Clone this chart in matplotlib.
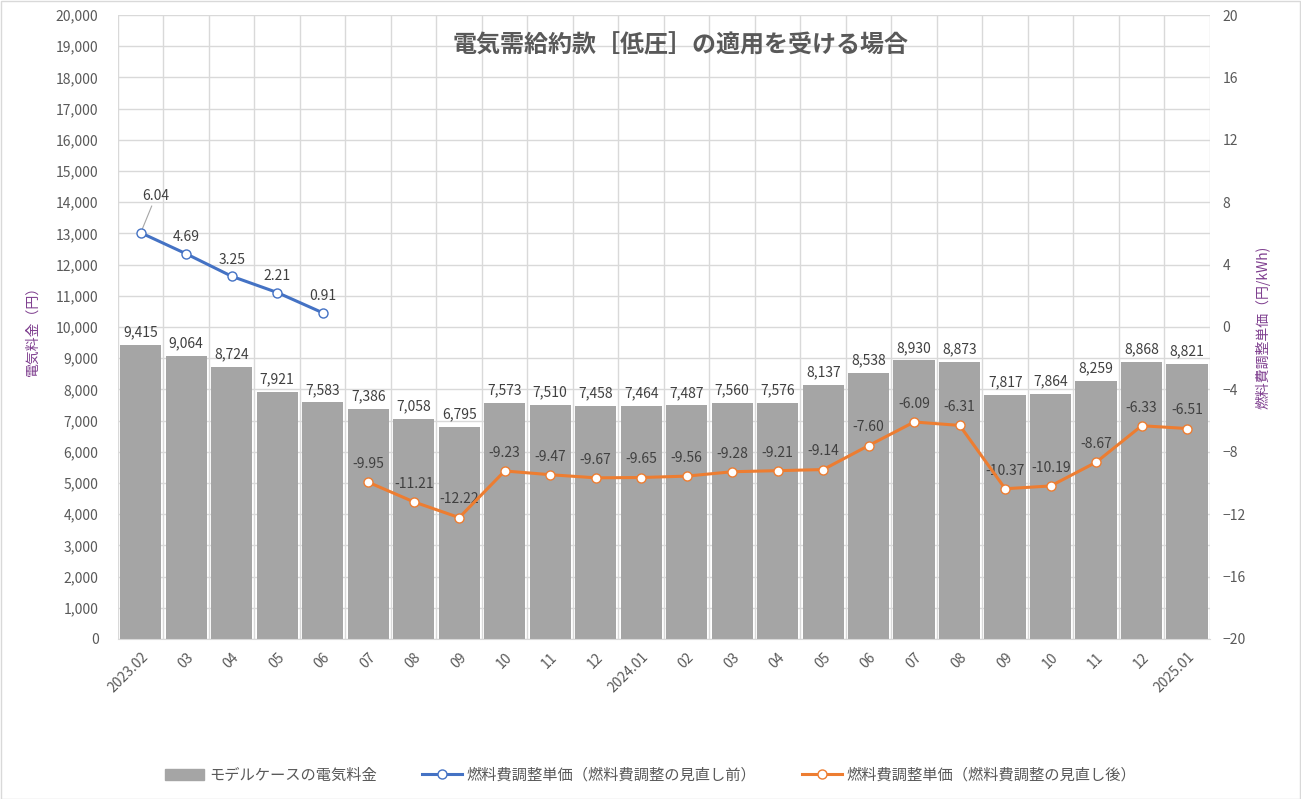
import numpy as np
import matplotlib
matplotlib.use('Agg')
import matplotlib.pyplot as plt
from matplotlib.patches import Rectangle
from matplotlib.lines import Line2D

plt.rcParams['font.family'] = ['Noto Sans CJK JP', 'DejaVu Sans']

months = ['2023.02', '03', '04', '05', '06', '07', '08', '09', '10', '11', '12',
          '2024.01', '02', '03', '04', '05', '06', '07', '08', '09', '10', '11', '12',
          '2025.01']
bill = [9415, 9064, 8724, 7921, 7583, 7386, 7058, 6795, 7573, 7510, 7458, 7464,
        7487, 7560, 7576, 8137, 8538, 8930, 8873, 7817, 7864, 8259, 8868, 8821]
# before revision: first 5 months
fuel_before = [6.04, 4.69, 3.25, 2.21, 0.91]
# after revision: from 2023.07 onward
fuel_after = [-9.95, -11.21, -12.22, -9.23, -9.47, -9.67, -9.65, -9.56, -9.28, -9.21,
              -9.14, -7.60, -6.09, -6.31, -10.37, -10.19, -8.67, -6.33, -6.51]

txt = '#595959'
lab = '#404040'
grid_c = '#D9D9D9'
bar_c = '#A5A5A5'
blue = '#4472C4'
orange = '#ED7D31'
purple = '#7F3F8F'

fig = plt.figure(figsize=(13.01, 7.99), dpi=100)
ax = fig.add_axes([0.0907, 0.2003, 0.8393, 0.7809])
ax2 = ax.twinx()

x = np.arange(len(months))
ax.bar(x, bill, width=0.91, color=bar_c, zorder=2)
for xi, v in zip(x, bill):
    ax.annotate(f'{v:,}', (xi, v), xytext=(0, 4), textcoords='offset points',
                ha='center', va='bottom', fontsize=10, color=lab)

ax.set_xlim(-0.5, len(months) - 0.5)
ax.set_ylim(0, 20000)
ax.set_yticks(np.arange(0, 20001, 1000))
ax.set_yticklabels([f'{v:,}' for v in range(0, 20001, 1000)])
ax.set_xticks(x)
ax.set_xticklabels(months, rotation=45, ha='right', rotation_mode='anchor')
ax.set_xticks(np.arange(-0.5, len(months)), minor=True)
ax.grid(axis='y', which='major', color=grid_c, lw=1, zorder=0)
ax.grid(axis='x', which='minor', color=grid_c, lw=1, zorder=0)
ax.set_axisbelow(True)
ax.tick_params(axis='both', which='both', length=0, colors=txt, labelsize=10)
ax.tick_params(axis='x', pad=8)
ax.tick_params(axis='y', pad=14)
for s in ax.spines.values():
    s.set_visible(False)
for s in ax2.spines.values():
    s.set_visible(False)
ax.spines['bottom'].set_visible(True)
ax.spines['bottom'].set_color(grid_c)
ax.set_ylabel('電気料金（円）', color=purple, fontsize=10)
ax.yaxis.set_label_coords(-0.0715, 0.5)

xb = x[:len(fuel_before)]
xa = x[len(months) - len(fuel_after):]
ax2.plot(xb, fuel_before, color=blue, lw=2.2, marker='o', ms=6.5, mfc='white',
         mec=blue, mew=1, zorder=4)
ax2.plot(xa, fuel_after, color=orange, lw=2.2, marker='o', ms=6.5, mfc='white',
         mec=orange, mew=1, zorder=4)
ax2.set_ylim(-20, 20)
ax2.set_yticks(np.arange(-20, 21, 4))
ax2.tick_params(axis='y', length=0, colors=txt, labelsize=10, pad=9)
ax2.set_ylabel('燃料費調整単価（円/kWh)', color=purple, fontsize=10, rotation=90)
ax2.yaxis.set_label_coords(1.042, 0.5)

for i, (xi, v) in enumerate(zip(xb, fuel_before)):
    if i == 0:
        ax2.annotate(f'{v:.2f}', (xi, v), xytext=(xi + 0.33, v + 1.9),
                     ha='center', va='bottom', fontsize=10, color=lab,
                     arrowprops=dict(arrowstyle='-', color='#A6A6A6', lw=0.8,
                                     shrinkA=0, shrinkB=3))
    else:
        ax2.annotate(f'{v:.2f}', (xi, v), xytext=(0, 7), textcoords='offset points',
                     ha='center', va='bottom', fontsize=10, color=lab)
for xi, v in zip(xa, fuel_after):
    ax2.annotate(f'{v:.2f}', (xi, v), xytext=(0, 8), textcoords='offset points',
                 ha='center', va='bottom', fontsize=10, color=lab)

fig.text(0.523, 0.943, '電気需給約款［低圧］の適用を受ける場合', ha='center', va='center',
         fontsize=17.3, fontweight='bold', color=txt)

handles = [
    Rectangle((0, 0), 1, 1, color=bar_c),
    Line2D([], [], color=blue, lw=2.2, marker='o', ms=6.5, mfc='white', mec=blue),
    Line2D([], [], color=orange, lw=2.2, marker='o', ms=6.5, mfc='white', mec=orange),
]
labels = ['モデルケースの電気料金', '燃料費調整単価（燃料費調整の見直し前）',
          '燃料費調整単価（燃料費調整の見直し後）']
leg = fig.legend(handles, labels, loc='center', bbox_to_anchor=(0.5, 0.03), ncol=3,
                 frameon=False, fontsize=11, columnspacing=3.0, handlelength=2.6,
                 handletextpad=0.3)
for t in leg.get_texts():
    t.set_color(txt)

fig.patches.append(Rectangle((0.0004, 0.0006), 0.9985, 0.998, transform=fig.transFigure,
                             fill=False, edgecolor='#D9D9D9', lw=1))

fig.savefig('out.png', dpi=100)
